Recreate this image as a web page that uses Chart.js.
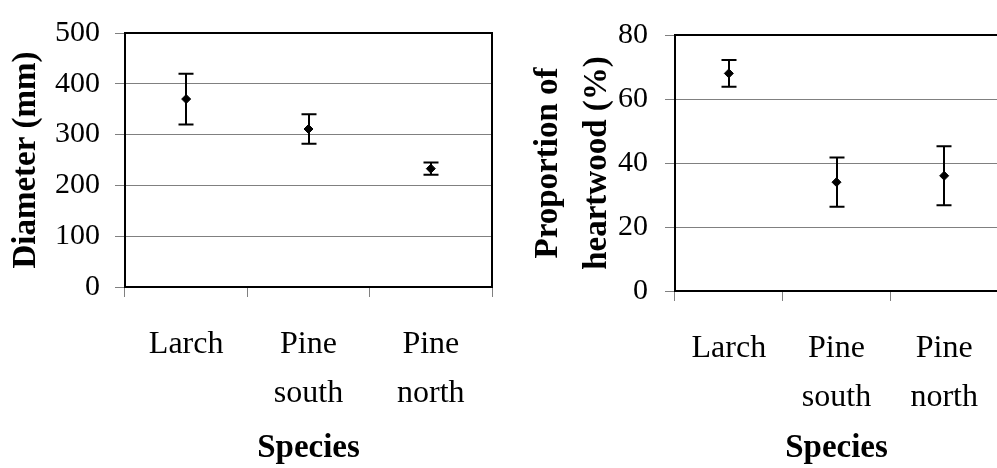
<!DOCTYPE html>
<html>
<head>
<meta charset="utf-8">
<script src="https://cdn.jsdelivr.net/npm/chart.js@4/dist/chart.umd.min.js"></script>
<style>
  html, body { margin: 0; padding: 0; background: #fff; overflow: hidden; }
  body { width: 997px; height: 468px; position: relative; }
  canvas { position: absolute; top: 0; }
  #diameter { left: 0; }
  #heartwood { left: 520px; }
</style>
</head>
<body>
<canvas id="diameter" width="500" height="468"></canvas>
<canvas id="heartwood" width="485" height="468"></canvas>
<script>
// Species on the category axis (multi-line labels)
const categories = [['Larch'], ['Pine', 'south'], ['Pine', 'north']];

// Stem diameter, mean and error (mm)
const diameterMean = [370, 311, 233];
const diameterErr = [50, 29, 12];
const diameterTicks = [0, 100, 200, 300, 400, 500];

// Proportion of heartwood, mean and error (%)
const heartwoodMean = [68, 34, 36];
const heartwoodErr = [4.2, 7.7, 9.2];
const heartwoodTicks = [0, 20, 40, 60, 80];

const SERIF = '"Liberation Serif", "Times New Roman", serif';
const GRID = '#808080';

// Black 2px frame around the plot area
const framePlugin = {
  id: 'frame',
  beforeDatasetsDraw(chart) {
    const { ctx, chartArea: a } = chart;
    ctx.save();
    ctx.strokeStyle = '#000';
    ctx.lineWidth = 2;
    ctx.strokeRect(a.left, a.top, a.right - a.left, a.bottom - a.top);
    ctx.restore();
  }
};

// Vertical error bars with caps, positioned through the chart's scales
const errorBarPlugin = {
  id: 'errorBars',
  beforeDatasetsDraw(chart, args, opts) {
    const { ctx, scales: { x, y } } = chart;
    const ds = chart.data.datasets[0];
    const errs = opts.errors || [];
    ctx.save();
    ctx.strokeStyle = '#000';
    ctx.lineWidth = 2;
    ds.data.forEach((v, i) => {
      const e = errs[i];
      const px = Math.round(x.getPixelForValue(i));
      const yTop = y.getPixelForValue(v + e);
      const yBot = y.getPixelForValue(v - e);
      const cap = 7.5;
      ctx.beginPath();
      ctx.moveTo(px, yTop); ctx.lineTo(px, yBot);
      ctx.moveTo(px - cap, yTop); ctx.lineTo(px + cap, yTop);
      ctx.moveTo(px - cap, yBot); ctx.lineTo(px + cap, yBot);
      ctx.stroke();
    });
    ctx.restore();
  }
};

function makeChart(id, cfg) {
  return new Chart(document.getElementById(id), {
    type: 'line',
    data: {
      labels: categories,
      datasets: [{
        data: cfg.means,
        showLine: false,
        pointStyle: 'rectRot',
        pointRadius: 4.5,
        pointBorderWidth: 1,
        pointBackgroundColor: '#000',
        pointBorderColor: '#000'
      }]
    },
    plugins: [framePlugin, errorBarPlugin],
    options: {
      responsive: false,
      animation: false,
      devicePixelRatio: 1,
      layout: { padding: cfg.padding },
      plugins: {
        legend: { display: false },
        tooltip: { enabled: false },
        errorBars: { errors: cfg.errors }
      },
      scales: {
        x: {
          type: 'category',
          offset: true,
          afterFit(s) { s.height = cfg.xHeight; },
          grid: {
            offset: true,
            drawOnChartArea: false,
            drawTicks: true,
            tickLength: 10,
            color: GRID,
            lineWidth: 1
          },
          border: { display: false },
          ticks: {
            color: '#000',
            maxRotation: 0,
            autoSkip: false,
            padding: 23,
            font: { family: SERIF, size: 32, lineHeight: '49px' }
          },
          title: {
            display: true,
            text: 'Species',
            color: '#000',
            padding: { top: 0, bottom: 0 },
            font: { family: SERIF, size: 33, weight: 'bold', lineHeight: 1.2 }
          }
        },
        y: {
          min: cfg.ticks[0],
          max: cfg.ticks[cfg.ticks.length - 1],
          afterFit(s) { s.width = cfg.yWidth; },
          afterBuildTicks(s) { s.ticks = cfg.ticks.map(v => ({ value: v })); },
          grid: {
            color: GRID,
            lineWidth: 1,
            drawTicks: true,
            tickLength: 10
          },
          border: { display: false },
          ticks: {
            color: '#000',
            padding: cfg.yTickPad,
            font: { family: SERIF, size: 30 }
          },
          title: {
            display: true,
            text: cfg.yTitle,
            color: '#000',
            padding: { top: cfg.yTitlePad, bottom: 0 },
            font: { family: SERIF, size: 33, weight: 'bold', lineHeight: cfg.yTitleLH }
          }
        }
      }
    }
  });
}

makeChart('diameter', {
  means: diameterMean,
  errors: diameterErr,
  ticks: diameterTicks,
  padding: { top: 21, right: 8, left: 0, bottom: 0 },
  xHeight: 181,
  yWidth: 125,
  yTickPad: 15,
  yTitle: 'Diameter (mm)',
  yTitlePad: 7,
  yTitleLH: 1.2
});

makeChart('heartwood', {
  means: heartwoodMean,
  errors: heartwoodErr,
  ticks: heartwoodTicks,
  padding: { top: 24, right: 7, left: 0, bottom: 0 },
  xHeight: 177,
  yWidth: 155,
  yTickPad: 17,
  yTitle: ['Proportion of', 'heartwood (%)'],
  yTitlePad: 3.5,
  yTitleLH: '49px'
});
</script>
</body>
</html>
